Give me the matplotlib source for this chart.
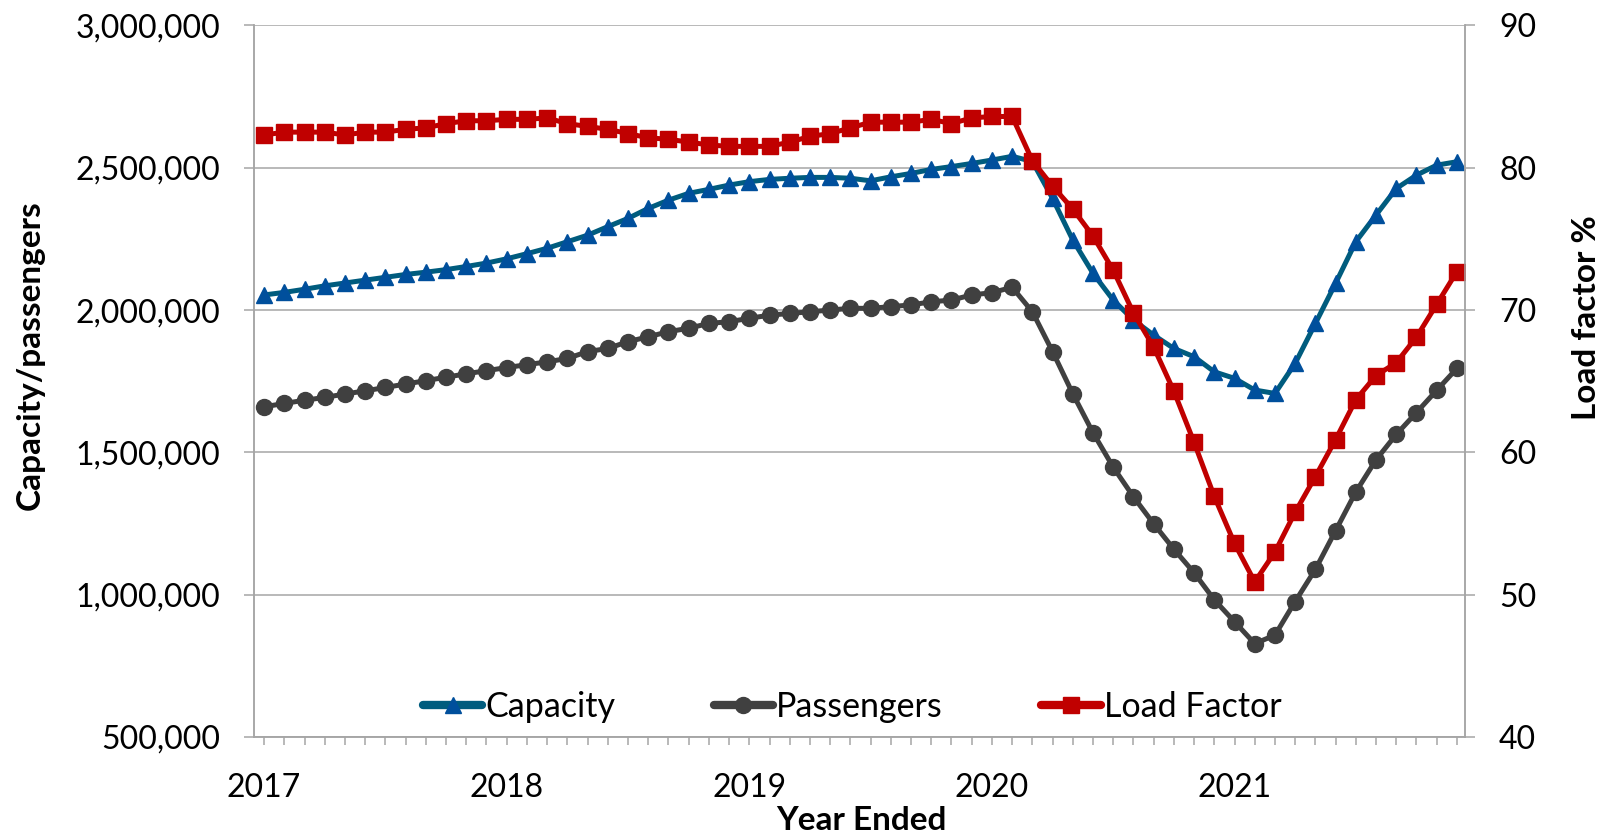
import matplotlib
matplotlib.use("Agg")
from matplotlib import pyplot as plt

plt.rcParams['font.family'] = ['Lato', 'DejaVu Sans']
plt.rcParams['font.size'] = 23

# Year-ended monthly figures, Jan 2017 .. Dec 2021
months = [f"{y}-{m:02d}" for y in range(2017, 2022) for m in range(1, 13)]
year_labels = ['2017', '2018', '2019', '2020', '2021']

capacity = [2053000, 2062000, 2073000, 2085000, 2095000, 2105000, 2115000, 2125000,
            2133000, 2142000, 2153000, 2165000, 2180000, 2198000, 2217000, 2240000,
            2263000, 2293000, 2322000, 2357000, 2386000, 2410000, 2424000, 2439000,
            2451000, 2459000, 2463000, 2466000, 2466000, 2463000, 2454000, 2468000,
            2480000, 2494000, 2504000, 2515000, 2527000, 2540000, 2522000, 2392000,
            2246000, 2129000, 2035000, 1965000, 1912000, 1865000, 1836000, 1783000,
            1760000, 1719000, 1707000, 1813000, 1953000, 2094000, 2240000, 2334000,
            2427000, 2474000, 2509000, 2521000]

passengers = [1660000, 1672000, 1683000, 1693000, 1705000, 1716000, 1728000, 1740000,
              1752000, 1764000, 1776000, 1787000, 1798000, 1808000, 1818000, 1830000,
              1854000, 1865000, 1889000, 1906000, 1924000, 1936000, 1953000, 1959000,
              1971000, 1982000, 1988000, 1994000, 2000000, 2006000, 2006000, 2012000,
              2018000, 2029000, 2035000, 2053000, 2061000, 2080000, 1994000, 1854000,
              1706000, 1569000, 1448000, 1344000, 1249000, 1160000, 1077000, 982000,
              905000, 828000, 858000, 976000, 1089000, 1225000, 1361000, 1474000,
              1563000, 1640000, 1718000, 1795000]

load_factor = [82.3, 82.5, 82.5, 82.5, 82.3, 82.5, 82.5, 82.7, 82.8, 83.1, 83.3, 83.3,
               83.4, 83.4, 83.5, 83.1, 82.9, 82.7, 82.4, 82.1, 82.0, 81.8, 81.6, 81.5,
               81.5, 81.5, 81.8, 82.2, 82.4, 82.8, 83.2, 83.2, 83.2, 83.4, 83.1, 83.5,
               83.6, 83.6, 80.5, 78.7, 77.1, 75.2, 72.8, 69.8, 67.4, 64.3, 60.7, 56.9,
               53.6, 50.9, 53.0, 55.8, 58.3, 60.9, 63.7, 65.4, 66.3, 68.1, 70.4, 72.7]

grey = '#a6a6a6'
x = list(range(len(months)))
tick_text = [year_labels[i // 12] if i % 12 == 0 else '' for i in x]

fig = plt.figure(figsize=(16.04, 8.36), dpi=100)
ax = fig.add_axes([254 / 1604, 1 - 737 / 836, 1211 / 1604, 711.6 / 836])
ax2 = ax.twinx()

l1, = ax.plot(x, capacity, color='#005c7e', lw=3.6, marker='^', ms=12,
              mfc='#004f9c', mec='#004f9c', label='Capacity')
l2, = ax.plot(x, passengers, color='#404040', lw=3.6, marker='o', ms=11.5,
              mfc='#404040', mec='#404040', label='Passengers')
l3, = ax2.plot(x, load_factor, color='#c00000', lw=3.6, marker='s', ms=11,
               mfc='#c00000', mec='#c00000', label='Load Factor')

ax.set_xlim(-0.5, 59.4)
ax.set_ylim(500000, 3000000)
ax2.set_ylim(40, 90)
ax.set_yticks([500000, 1000000, 1500000, 2000000, 2500000, 3000000])
ax.yaxis.set_major_formatter(matplotlib.ticker.FuncFormatter(lambda v, p: f"{int(v):,}"))
ax2.set_yticks([40, 50, 60, 70, 80, 90])
ax.set_xticks(x)
ax.set_xticklabels(tick_text)

ax.grid(axis='y', color=grey, lw=1.1)
ax.set_axisbelow(True)
for a in (ax, ax2):
    a.spines['top'].set_visible(False)
    for s in ('left', 'right', 'bottom'):
        a.spines[s].set_color(grey)
        a.spines[s].set_linewidth(1.1)
ax.tick_params(axis='x', direction='out', length=6, width=1.1, color=grey, pad=20)
ax.tick_params(axis='y', direction='out', length=7.5, width=1.1, color=grey, pad=17)
ax2.tick_params(axis='y', direction='out', length=7.5, width=1.1, color=grey, pad=17)

fig.text(30 / 1604, 1 - 355 / 836, 'Capacity/passengers', rotation=90,
         ha='center', va='center', fontweight='bold', fontsize=24)
fig.text(1587 / 1604, 1 - 318 / 836, 'Load factor %', rotation=90,
         ha='center', va='center', fontweight='bold', fontsize=24)
fig.text(861 / 1604, 1 - 821 / 836, 'Year Ended', ha='center', va='center',
         fontweight='bold', fontsize=24)

leg = ax2.legend(handles=[l1, l2, l3], loc='center', bbox_to_anchor=(852 / 1604, 1 - 707 / 836),
                 bbox_transform=fig.transFigure, ncol=3, frameon=False, fontsize=24.5,
                 handlelength=1.75, handletextpad=0.08, columnspacing=2.9,
                 borderpad=0, numpoints=1)
for line in leg.get_lines():
    line.set_linewidth(6)
    line.set_solid_capstyle('round')

fig.savefig('out.png', dpi=100)
